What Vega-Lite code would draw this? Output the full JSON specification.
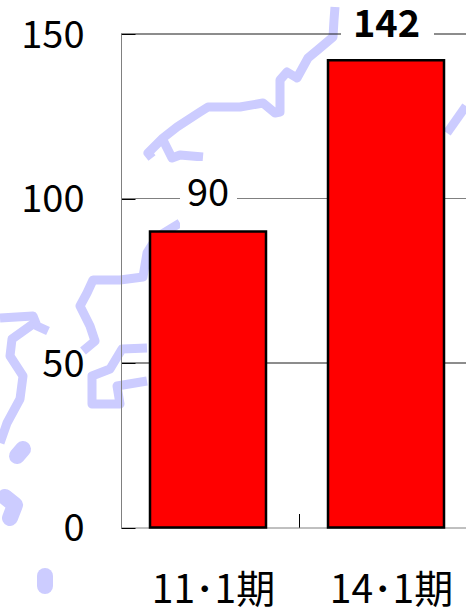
{
"$schema":"https://vega.github.io/schema/vega-lite/v6.json",
"width":345,"height":493.5,
"autosize":"none",
"padding":{"left":121,"top":34,"right":0,"bottom":84.5},
"background":"white",
"view":{"stroke":null},
"datasets":{
"main":[{"period":"11･1期","value":90,"boxHigh":111.4},{"period":"14･1期","value":142,"boxHigh":160.3}],
"grid":[{"v":50},{"v":100},{"v":150}],
"coast":[
{"s":"a","i":1,"mx":33.5,"my":0.7},{"s":"a","i":2,"mx":33.4,"my":2.0},{"s":"a","i":3,"mx":33.3,"my":3.7},{"s":"a","i":4,"mx":32.0,"my":4.8},{"s":"a","i":5,"mx":30.8,"my":5.8},{"s":"a","i":6,"mx":29.7,"my":7.8},{"s":"a","i":7,"mx":28.7,"my":7.2},{"s":"a","i":8,"mx":28.0,"my":8.0},{"s":"a","i":9,"mx":28.0,"my":9.7},{"s":"a","i":10,"mx":28.0,"my":11.2},{"s":"a","i":11,"mx":27.5,"my":11.3},{"s":"a","i":12,"mx":26.3,"my":10.3},{"s":"a","i":13,"mx":24.0,"my":10.7},{"s":"a","i":14,"mx":20.8,"my":10.7},{"s":"a","i":15,"mx":20.0,"my":11.2},{"s":"a","i":16,"mx":17.7,"my":12.7},{"s":"a","i":17,"mx":16.3,"my":13.8},{"s":"a","i":18,"mx":14.8,"my":15.3},{"s":"a","i":19,"mx":15.2,"my":15.8},
{"s":"b","i":1,"mx":16.3,"my":14.0},{"s":"b","i":2,"mx":17.2,"my":15.8},{"s":"b","i":3,"mx":18.0,"my":15.5},{"s":"b","i":4,"mx":20.3,"my":15.7},
{"s":"c","i":1,"mx":18.0,"my":22.3},{"s":"c","i":2,"mx":15.7,"my":23.7},{"s":"c","i":3,"mx":14.7,"my":25.3},{"s":"c","i":4,"mx":14.3,"my":27.7},{"s":"c","i":5,"mx":12.0,"my":28.0},{"s":"c","i":6,"mx":9.3,"my":28.0},{"s":"c","i":7,"mx":8.7,"my":29.3},{"s":"c","i":8,"mx":8.0,"my":30.6},{"s":"c","i":9,"mx":9.0,"my":32.6},{"s":"c","i":10,"mx":9.5,"my":34.1},{"s":"c","i":11,"mx":8.3,"my":35.1},
{"s":"d","i":1,"mx":14.7,"my":34.8},{"s":"d","i":2,"mx":12.2,"my":34.9},{"s":"d","i":3,"mx":11.0,"my":36.9},{"s":"d","i":4,"mx":9.2,"my":37.6},{"s":"d","i":5,"mx":9.2,"my":40.4},{"s":"d","i":6,"mx":12.0,"my":40.4},{"s":"d","i":7,"mx":11.7,"my":38.6},{"s":"d","i":8,"mx":14.7,"my":38.1},
{"s":"e","i":1,"mx":0.0,"my":31.8},{"s":"e","i":2,"mx":3.3,"my":31.6},{"s":"e","i":3,"mx":3.7,"my":32.6},{"s":"e","i":4,"mx":4.8,"my":33.1},
{"s":"f","i":1,"mx":3.3,"my":32.4},{"s":"f","i":2,"mx":1.2,"my":33.9},{"s":"f","i":3,"mx":1.0,"my":35.6},{"s":"f","i":4,"mx":2.3,"my":37.6},{"s":"f","i":5,"mx":2.0,"my":39.9},{"s":"f","i":6,"mx":0.7,"my":42.3},{"s":"f","i":7,"mx":0.0,"my":44.3},
{"s":"g","i":1,"mx":44.7,"my":13.3},{"s":"g","i":2,"mx":46.6,"my":10.6},
{"s":"h","i":1,"mx":40.0,"my":6.2},{"s":"h","i":2,"mx":41.0,"my":5.9},{"s":"h","i":3,"mx":42.0,"my":6.2}
],
"islands":[
{"s":"p","i":1,"mx":1.7,"my":45.6},{"s":"p","i":2,"mx":2.3,"my":44.9},
{"s":"q","i":1,"mx":0.5,"my":49.7},{"s":"q","i":2,"mx":1.5,"my":50.5},{"s":"q","i":3,"mx":1.0,"my":51.8},
{"s":"r","i":1,"mx":4.5,"my":57.6},{"s":"r","i":2,"mx":4.5,"my":58.6}
]
},
"resolve":{"scale":{"x":"independent","y":"independent"}},
"layer":[
{"data":{"name":"coast"},
 "mark":{"type":"line","stroke":"#ccccff","strokeWidth":9,"strokeJoin":"round"},
 "encoding":{
  "x":{"field":"mx","type":"quantitative","axis":null,"scale":{"domain":[0,46.6],"range":[-121,345],"nice":false,"zero":false}},
  "y":{"field":"my","type":"quantitative","axis":null,"scale":{"domain":[0,61.2],"range":[-34,578],"nice":false,"zero":false}},
  "detail":{"field":"s"},"order":{"field":"i"}}},
{"data":{"name":"islands"},
 "mark":{"type":"line","stroke":"#ccccff","strokeWidth":16,"strokeCap":"round","strokeJoin":"round"},
 "encoding":{
  "x":{"field":"mx","type":"quantitative","axis":null,"scale":{"domain":[0,46.6],"range":[-121,345],"nice":false,"zero":false}},
  "y":{"field":"my","type":"quantitative","axis":null,"scale":{"domain":[0,61.2],"range":[-34,578],"nice":false,"zero":false}},
  "detail":{"field":"s"},"order":{"field":"i"}}},
{"layer":[
 {"data":{"name":"grid"},
  "mark":{"type":"rule","strokeWidth":1},
  "encoding":{
   "y":{"field":"v","type":"quantitative","title":null,"scale":{"domain":[0,150],"range":[493.5,0],"nice":false},
    "axis":{"values":[0,50,100,150],"grid":false,"domainColor":"#808080","domainWidth":1,"tickColor":"#000000","tickSize":-14,"tickWidth":1,"labelPadding":51,"labelFont":"Noto Sans CJK JP","labelFontSize":38,"labelColor":"#000000","labelOffset":2,"zindex":1}},
   "color":{"condition":{"test":"datum.v==100","value":"#808080"},"value":"#1a1a1a"}}},
 {"data":{"name":"main"},"transform":[{"filter":"datum.value==90"}],
  "mark":{"type":"bar","fill":"white","size":57,"xOffset":-1.5},
  "encoding":{
   "x":{"field":"period","type":"nominal","sort":null,"title":null,"scale":{"domain":["11･1期","14･1期"],"range":[0,356],"paddingInner":0,"paddingOuter":0},
    "axis":{"domainColor":"#808080","domainWidth":1,"tickColor":"#000000","tickSize":-14,"tickBand":"extent","labelAngle":0,"labelPadding":58,"labelFont":"Noto Sans CJK JP","labelFontSize":39,"labelColor":"#000000","labelOffset":3}},
   "y":{"field":"value","type":"quantitative","title":null},"y2":{"field":"boxHigh"}}},
 {"data":{"name":"main"},"transform":[{"filter":"datum.value==142"}],
  "mark":{"type":"bar","fill":"white","size":93,"xOffset":-0.5},
  "encoding":{
   "x":{"field":"period","type":"nominal","sort":null,"title":null},
   "y":{"field":"value","type":"quantitative","title":null},"y2":{"field":"boxHigh"}}},
 {"data":{"name":"main"},
  "mark":{"type":"bar","fill":"#ff0000","stroke":"#000000","strokeWidth":2.5,"size":116,"xOffset":-2},
  "encoding":{
   "x":{"field":"period","type":"nominal","sort":null,"title":null},
   "y":{"field":"value","type":"quantitative","title":null}}},
 {"data":{"name":"main"},"transform":[{"filter":"datum.value==90"}],
  "mark":{"type":"text","font":"Noto Sans CJK JP","fontSize":38,"color":"#000000","baseline":"middle","dy":-36,"dx":-2},
  "encoding":{
   "x":{"field":"period","type":"nominal","sort":null,"title":null},
   "y":{"field":"value","type":"quantitative","title":null},
   "text":{"field":"value"}}},
 {"data":{"name":"main"},"transform":[{"filter":"datum.value==142"}],
  "mark":{"type":"text","font":"Noto Sans CJK JP","fontSize":38,"fontWeight":"bold","color":"#000000","baseline":"middle","dy":-34,"dx":-1.5},
  "encoding":{
   "x":{"field":"period","type":"nominal","sort":null,"title":null},
   "y":{"field":"value","type":"quantitative","title":null},
   "text":{"field":"value"}}}
]}
]
}
